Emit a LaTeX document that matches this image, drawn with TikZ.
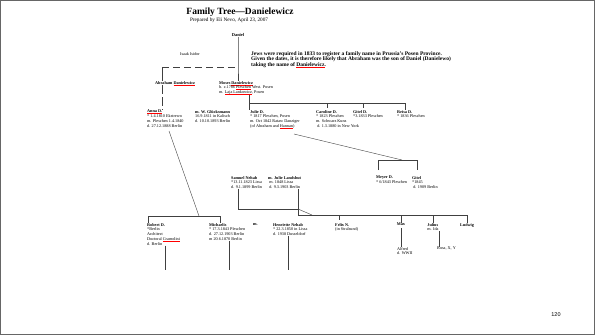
\documentclass[tikz,border=0pt]{standalone}
\usepackage{fontspec}
\setmainfont{Liberation Serif}
\newfontfamily\pagenofont{Liberation Sans}
\newsavebox\spellbox
\newcommand\spell[1]{\sbox\spellbox{#1}\rlap{\textcolor{red}{\rule[-0.7pt]{\wd\spellbox}{0.3pt}}}\usebox\spellbox}

\begin{document}
\begin{tikzpicture}[x=1pt,y=-1pt]
\tikzstyle{every node}+=[inner sep=0pt]
\tikzstyle{person}=[anchor=north west,align=left,font=\fontsize{4.2}{4.8}\selectfont]
\tikzstyle{link}=[black!75,line width=0.4pt]
\useasboundingbox (0,0) rectangle (595,335);
\draw [black!60] (0.5,0.5) rectangle (594.5,334.5);
% heading
\node (title) at (240,12) {\fontsize{9.5}{11}\selectfont\bfseries Family Tree---Danielewicz};
\node (sub) at (229,20) {\fontsize{5.2}{6}\selectfont Prepared by Eli Nevo, April 23, 2007};
\node (daniel) at (238,35) {\fontsize{4.4}{5}\selectfont\bfseries Daniel};
\node (isidor) at (190,54) {\fontsize{4.2}{5}\selectfont Isaak Isidor};
\node [person,font=\fontsize{5.5}{5.3}\selectfont\bfseries] (note) at (251,51.5)
  {Jews were required in 1833 to register a family name in Prussia's Posen Province.\\
   Given the dates, it is therefore likely that Abraham was the son of Daniel (Danielewo)\\
   taking the name of \spell{Danielewicz}.};
\coordinate (dashL) at (162,67);
\coordinate (dashR) at (238,67);
% generation 1
\node [person] (abraham) at (155,81) {\textbf{Abraham \spell{Danielewicz}}};
\node [person] (moses) at (219,81) {\textbf{Moses \spell{Danielewicz}}\\
  b. c.1786 \spell{Pleschen} West. Posen\\ m. \spell{Laja Lankowicz}, Posen};
% generation 2
\node [person] (anna) at (147,110) {\textbf{\spell{Anna D.}}\\ * 1.4.1810 Ekstrewo\\
  m. Pleschen 1.4.1840\\ d. 27.12.1888 Berlin};
\node [person] (wglueck) at (195,110) {\textbf{m. W. Glücksmann}\\ 16.9.1811 in Kalisch\\
  d. 10.10.1893 Berlin};
\node [person] (julie) at (250,110) {\textbf{Julie D.}\\ * 1817 Pleschen, Posen\\
  m. Oct 1842 Rataw Danziger\\ (of Abraham and \spell{Hannan})};
\node [person] (caroline) at (316,110) {\textbf{Caroline D.}\\ * 1823 Pleschen\\
  m. Schwarz Kunz\\ \ d. 1.3.1880 in New York};
\node [person] (giteld) at (353,110) {\textbf{Gitel D.}\\ *3.1833 Pleschen};
\node [person] (reisa) at (397,110) {\textbf{Reisa D.}\\ * 1836 Pleschen};
\coordinate (kidsL) at (249,103);
\coordinate (kidsR) at (405,103);
% generation 3
\node [person] (meyer) at (376,176) {\textbf{Meyer D.}\\ * 6/1843 Pleschen};
\node [person] (gitel) at (412,176) {\textbf{Gitel}\\ *1845\\ \ d. 1909 Berlin};
\node [person] (samuel) at (231,176) {\textbf{Samuel Nehab}\\ *13.11.1823 Lissa\\
  d. 9.1.1899 Berlin};
\node [person] (jland) at (268,176) {\textbf{m. Julie Landshut}\\ \ m. 1848 Lissa\\
  \ d. 9.3.1903 Berlin};
\coordinate (julieout) at (294,134);
\coordinate (mgL) at (378,160);
\coordinate (mgM) at (402,160);
\coordinate (mgR) at (417,160);
\coordinate (mgLb) at (378,170);
\coordinate (mgRb) at (417,170);
\coordinate (snL) at (238,209);
\coordinate (snR) at (298,209);
\coordinate (snkink) at (312,215);
\coordinate (sibL) at (298,215);
\coordinate (sibR) at (467,215);
\coordinate (annaout) at (169,131);
\coordinate (annakid) at (199,216);
\coordinate (akL) at (148,216);
\coordinate (akR) at (220,216);
% generation 4
\node [person] (robert) at (147,223) {\textbf{Robert D.}\\ *Berlin\\ Architect\\
  Doctoral \spell{Cramolini}\\ d. Berlin};
\node [person] (michaelis) at (209,223) {\textbf{Michaelis}\\ * 17.3.1843 Pleschen\\
  d. 27.12.1903 Berlin\\ m 20.6.1870 Berlin};
\node [person] (mm) at (253,223) {\textbf{m.}};
\node [person] (henriette) at (273,223) {\textbf{Henriette Nehab}\\ * 22.3.1850 in Lissa\\
  d. 1938 Dusseldorf};
\node [person] (felix) at (335,223) {\textbf{Felix N.}\\ (in Stralsund)};
\node [person,anchor=north] (max) at (401,223) {\textbf{Max}};
\node [person,anchor=north] (julius) at (433,223) {\textbf{Julius}\\ m. Ida};
\node [person,anchor=north] (ludwig) at (467,223) {\textbf{Ludwig}};
\node [person] (alfred) at (397,247) {Alfred\\ d. WWII};
\node [person] (rosa) at (437,247) {Rosa, X, Y};
\coordinate (robertend) at (165,270);
\coordinate (michaelisend) at (229,270);
\coordinate (henrietteend) at (288,270);
\node [font=\pagenofont\fontsize{5.5}{6}\selectfont] (pageno) at (556,315) {120};
% connectors
\draw [link] (daniel.south) -- (dashR) -- (dashR |- moses.north);
\draw [link,dash pattern=on 7pt off 4pt] (dashL) -- (dashR);
\draw [link] (dashL) -- (dashL |- abraham.north);
\draw [link,dash pattern=on 9pt off 3pt] (dashL |- abraham.south) -- (dashL |- anna.north);
\draw [link] (kidsL |- moses.south) -- (kidsL |- julie.north);
\draw [link] (kidsL) -- (kidsR) -- (kidsR |- reisa.north);
\draw [link] (kidsL -| 327,0) -- (327,108);
\draw [link] (kidsL -| 363,0) -- (363,108);
\draw [link] (julieout) -- (mgM);
\draw [link] (mgLb) -- (mgL) -- (mgR) -- (mgRb);
\draw [link] (snL |- samuel.south) -- (snL) -- (snR);
\draw [link] (snR |- jland.south) -- (sibL) -- (sibR);
\draw [link] (snR) -- (snkink);
\draw [link] (sibL -| 339,0) -- (339,220);
\draw [link] (sibL -| max) -- (max.north);
\draw [link] (sibL -| julius) -- (julius.north);
\draw [link] (sibR) -- (ludwig.north);
\draw [link] (annaout) -- (annakid);
\draw [link] (akL |- robert.north) -- (akL) -- (akR) -- (akR |- michaelis.north);
\draw [link] (max.south) ++(0,2) -- (max.south |- alfred.north);
\draw [link] (julius.south -| 439,0) -- (439,247);
\draw [link] (robertend |- robert.south) -- (robertend);
\draw [link] (michaelisend |- michaelis.south) -- (michaelisend);
\draw [link] (henrietteend |- henriette.south) -- (henrietteend);
\end{tikzpicture}
\end{document}
